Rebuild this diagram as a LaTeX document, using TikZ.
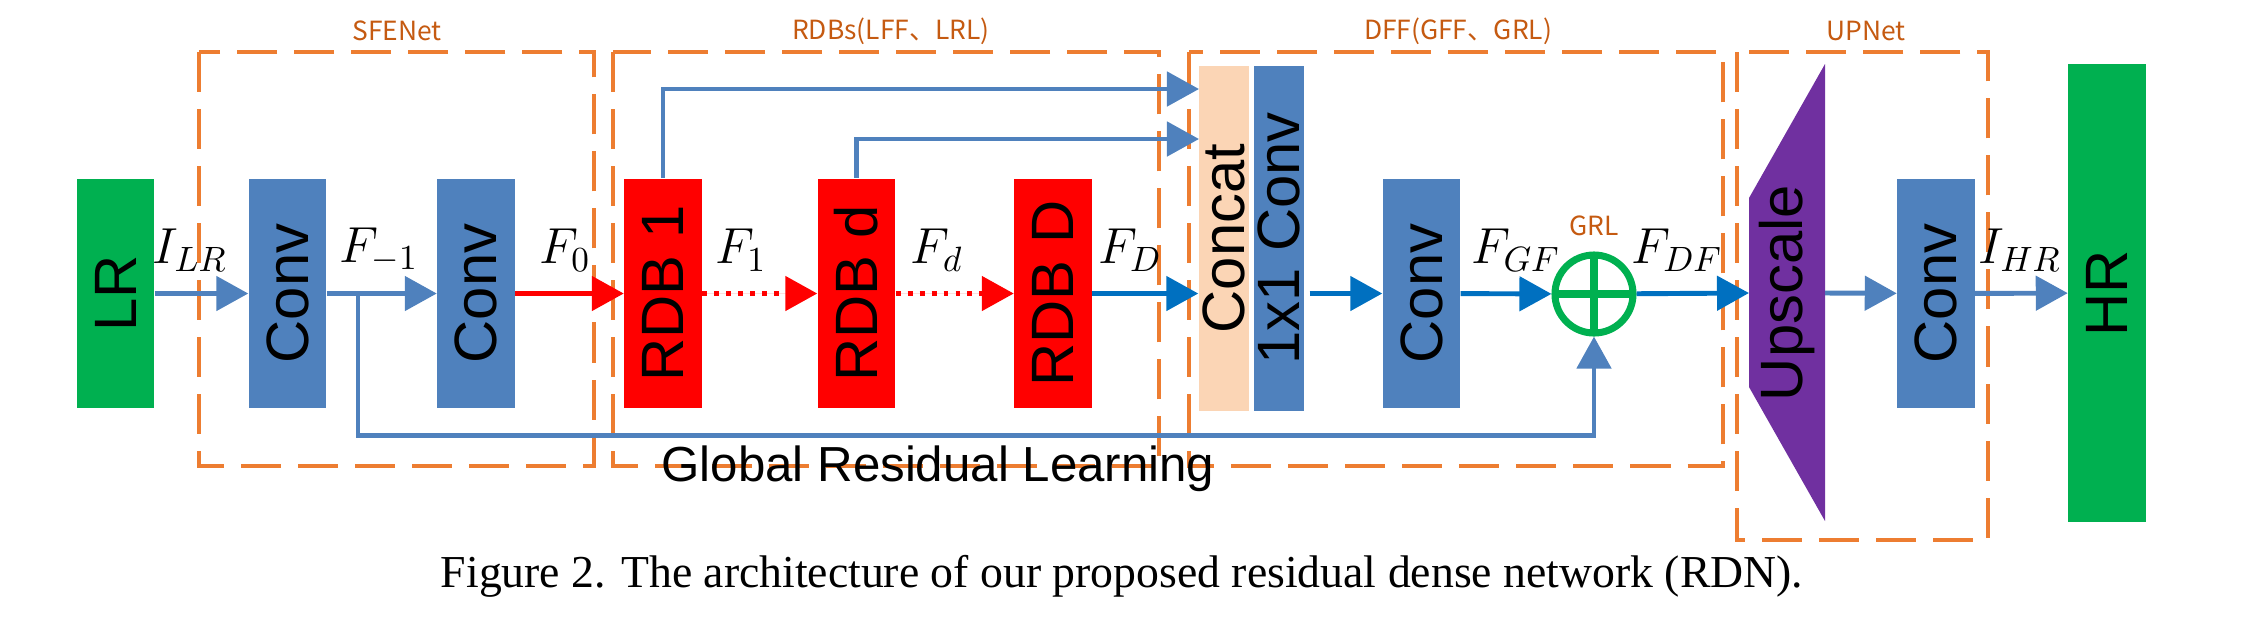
\documentclass[tikz,border=0pt]{standalone}
\usepackage{amsmath}
\usepackage{fontspec}
\usetikzlibrary{arrows.meta, positioning, calc}
\newfontfamily\arialf{Liberation Sans}
\newfontfamily\timesf{Liberation Serif}
\newfontfamily\cjk{Noto Sans CJK SC}
\definecolor{convblue}{HTML}{4F81BD}
\definecolor{lineblue}{HTML}{0070C0}
\definecolor{lrgreen}{HTML}{00B050}
\definecolor{boxorange}{HTML}{ED7D31}
\definecolor{labelorange}{HTML}{C55A11}
\definecolor{peach}{HTML}{FBD5B5}
\definecolor{upviolet}{HTML}{7030A0}
\tikzset{
  block/.style={rectangle, rotate=90, inner sep=0pt, minimum width=2.29cm, minimum height=0.77cm,
    font=\arialf\fontsize{17}{17}\selectfont},
  conv/.style={block, fill=convblue},
  rdb/.style={block, fill=red},
  stage/.style={draw=boxorange, line width=1.4pt, dash pattern=on 0.4cm off 0.17cm},
  stagelabel/.style={text=labelorange, font=\cjk\fontsize{7.5}{8}\selectfont},
  feat/.style={font=\fontsize{14}{14}\selectfont},
  flow/.style={-{Triangle[length=0.32cm,width=0.34cm]}, line width=1.4pt, draw=convblue},
}
\begin{document}
\begin{tikzpicture}[x=0.01cm, y=-0.01cm]
  \useasboundingbox (0,0) rectangle (2244,632);
  % stages
  \draw [stage] (199,52) rectangle (594,466);
  \draw [stage] (613,52) rectangle (1159,466);
  \draw [stage] (1189,52) rectangle (1723,466);
  \draw [stage] (1737,52) rectangle (1988,540);
  \node [stagelabel] (sfelabel) at (397,31) {SFENet};
  \node [stagelabel] (rdblabel) at (891,31) {RDBs(LFF、LRL)};
  \node [stagelabel] (dfflabel) at (1458,31) {DFF(GFF、GRL)};
  \node [stagelabel] (uplabel) at (1866,31) {UPNet};
  % blocks
  \node [block, fill=lrgreen] (lr) at (115.5,293.5) {LR};
  \node [conv] (conv1) at (287.5,293.5) {Conv};
  \node [conv] (conv2) at (476,293.5) {Conv};
  \node [rdb] (rdb1) at (663,293.5) {RDB 1};
  \node [rdb] (rdbd) at (856.5,293.5) {RDB d};
  \node [rdb] (rdbD) at (1053,293.5) {RDB D};
  \node [block, fill=peach, minimum width=3.45cm, minimum height=0.5cm] (concat) at (1224,238.5) {Concat};
  \node [conv, minimum width=3.45cm, minimum height=0.5cm] (onexone) at (1279,238.5) {1x1 Conv};
  \node [conv] (conv3) at (1421.5,293.5) {Conv};
  \node [circle, draw=lrgreen, line width=2pt, minimum size=0.78cm, inner sep=0pt,
    path picture={\draw [lrgreen, line width=2pt] (path picture bounding box.north) -- (path picture bounding box.south)
      (path picture bounding box.west) -- (path picture bounding box.east);}] (plus) at (1594,294) {};
  \node [stagelabel] (grllabel) at (1594,226) {GRL};
  \fill [upviolet] (1749,198) -- (1825,64) -- (1825,521) -- (1749,387) -- cycle;
  \node [block, fill=none] (upscale) at (1787,293) {Upscale};
  \coordinate (upin) at (1749,293);
  \coordinate (upout) at (1825,293);
  \node [conv] (conv4) at (1936,293.5) {Conv};
  \node [block, fill=lrgreen, minimum width=4.58cm] (hr) at (2107,293) {HR};
  % flow
  \draw [flow] (lr) -- (conv1);
  \draw [flow] (conv1) -- (conv2);
  \draw [flow, draw=red, fill=red] (conv2) -- (rdb1);
  \draw [flow, draw=red, fill=red, dotted] (rdb1) -- (rdbd);
  \draw [flow, draw=red, fill=red, dotted] (rdbd) -- (rdbD);
  \draw [flow, draw=lineblue] (rdbD.south) -- (rdbD.south -| concat.north);
  \coordinate (in1) at (1199,89);
  \coordinate (in2) at (1199,139);
  \draw [flow] (rdb1.east) |- (in1);
  \draw [flow] (rdbd.east) |- (in2);
  \draw [flow, draw=lineblue] (onexone.south |- conv3) ++(5,0) -- (conv3);
  \draw [flow, draw=lineblue] (conv3) -- (plus);
  \draw [flow, draw=lineblue] (plus) -- (upin);
  \draw [flow] (upout) -- (conv4);
  \draw [flow] (conv4) -- (hr);
  \coordinate (split) at (358,293.5);
  \draw [flow] (split) -- ++(0,142) -| (plus.south);
  % labels
  \node [feat] (ilr) at (190,250) {$I_{LR}$};
  \node [feat] (fm1) at (379,250) {$F_{-1}$};
  \node [feat] (f0) at (565,250) {$F_{0}$};
  \node [feat] (f1) at (741,250) {$F_{1}$};
  \node [feat] (fd) at (937,250) {$F_{d}$};
  \node [feat] (fD) at (1130,250) {$F_{D}$};
  \node [feat] (fgf) at (1516,250) {$F_{GF}$};
  \node [feat] (fdf) at (1677,250) {$F_{DF}$};
  \node [feat] (ihr) at (2020,250) {$I_{HR}$};
  \node [font=\arialf\fontsize{14}{14}\selectfont] (grl) at (938,469) {Global Residual Learning};
  \node [font=\timesf\fontsize{13}{13}\selectfont] (caption) at (1122,576)
    {Figure 2. The architecture of our proposed residual dense network (RDN).};
\end{tikzpicture}
\end{document}
